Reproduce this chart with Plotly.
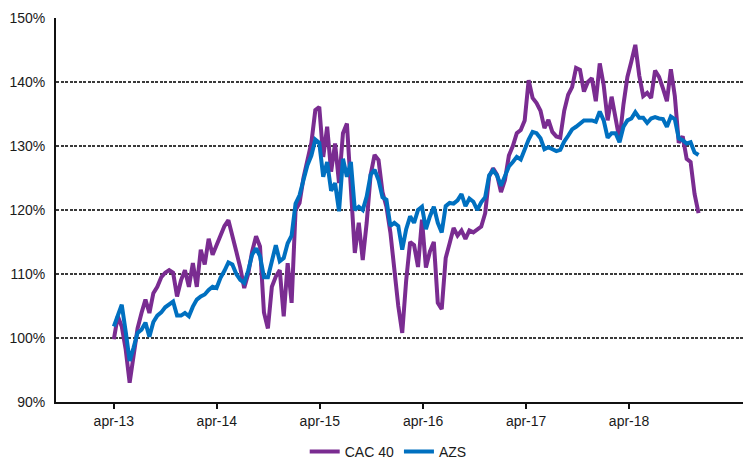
import pandas as pd
import plotly.graph_objects as go

# Fortnightly observations starting April 2013
start_date = "2013-04-01"
n_points = 149
dates = pd.date_range(start_date, periods=n_points, freq="14D")

cac40 = [
    99.8, 103.4, 101.8, 98.2, 93.0, 97.5, 101.5, 103.9, 106.0, 103.9,
    107.0, 108.0, 109.5, 110.2, 110.6, 110.2, 106.5, 109.0, 110.6, 108.0,
    111.7, 108.0, 113.8, 111.5, 115.5, 113.0, 114.5, 116.4, 117.5, 118.4,
    116.2, 113.5, 111.0, 107.8, 110.0, 113.5, 115.9, 114.3, 104.0, 101.5,
    108.0, 109.6, 110.6, 103.4, 111.7, 105.5, 120.0, 121.1, 125.0, 128.0,
    130.5, 135.6, 136.1, 128.3, 133.0, 126.0, 130.4, 124.2, 132.0, 133.5,
    124.0, 113.3, 118.0, 112.2, 118.0, 125.5, 128.6, 127.8, 122.8, 120.5,
    116.5, 110.5, 105.0, 100.8, 109.0, 115.0, 114.5, 111.1, 118.5, 111.0,
    113.5, 115.0, 105.5, 104.5, 112.5, 114.8, 117.2, 116.0, 116.8, 115.5,
    116.8, 116.5, 117.0, 117.4, 119.5, 125.2, 126.5, 125.5, 122.8, 124.7,
    128.5, 130.0, 132.0, 132.5, 134.0, 140.3, 137.5, 136.7, 135.5, 132.8,
    134.1, 132.2, 131.5, 131.3, 135.5, 138.0, 139.2, 142.2, 141.9, 138.5,
    140.0, 140.6, 137.0, 142.9, 139.5, 134.0, 137.7, 134.5, 131.0, 136.5,
    140.8, 143.2, 145.8, 141.0, 137.8, 138.3, 137.5, 141.8, 140.8, 139.0,
    137.0, 142.0, 137.8, 130.5, 131.5, 128.0, 127.5, 122.5, 119.5,
]

azs = [
    101.8, 103.5, 105.2, 101.0, 96.4, 98.5, 100.8, 101.3, 102.4, 100.2,
    102.5, 103.5, 104.0, 104.8, 105.2, 105.7, 103.5, 103.5, 103.9, 103.4,
    104.9, 106.0, 106.5, 106.8, 107.5, 108.0, 107.8, 109.4, 110.5, 111.8,
    111.5, 110.0, 109.1, 108.6, 110.5, 113.0, 114.0, 112.8, 109.5, 109.5,
    112.0, 114.5, 112.0, 112.5, 114.8, 116.0, 121.0, 122.3, 124.7, 127.0,
    128.5, 131.0, 130.5, 125.2, 127.5, 123.0, 124.2, 119.8, 128.0, 125.2,
    127.5, 120.0, 120.5, 120.0, 122.1, 125.5, 126.3, 124.7, 122.0, 121.6,
    117.5, 118.0, 117.5, 113.8, 117.0, 119.0, 118.0, 120.0, 120.5, 117.0,
    119.0, 120.5, 118.0, 116.5, 120.6, 121.1, 121.0, 121.5, 122.5, 120.6,
    121.8, 121.3, 120.0, 121.2, 122.0, 125.4, 126.2, 125.4, 123.8, 125.5,
    126.8, 127.5, 128.3, 127.9, 129.5, 131.0, 132.2, 132.0, 131.2, 129.5,
    129.8, 129.5, 129.2, 129.4, 130.7, 131.6, 132.6, 133.0, 133.5, 134.0,
    134.0, 134.0, 133.8, 135.4, 134.0, 131.3, 132.0, 132.0, 130.6, 133.0,
    134.0, 134.3, 135.3, 134.4, 134.4, 133.6, 134.3, 134.5, 134.3, 134.2,
    133.0, 134.6, 134.2, 131.2, 130.9, 130.4, 130.6, 129.0, 128.6,
]

tick_dates = ["2013-04-01", "2014-04-01", "2015-04-01", "2016-04-01", "2017-04-01", "2018-04-01"]
tick_labels = ["apr-13", "apr-14", "apr-15", "apr-16", "apr-17", "apr-18"]
y_ticks = [90, 100, 110, 120, 130, 140, 150]

fig = go.Figure()
fig.add_trace(go.Scatter(x=dates, y=cac40, mode="lines", name="CAC 40",
                         line=dict(color="#7A2C91", width=4)))
fig.add_trace(go.Scatter(x=dates, y=azs, mode="lines", name="AZS",
                         line=dict(color="#0070C0", width=4)))

# the page body adds an 8px offset, so the figure is sized to end at the window edge
fig.update_layout(
    width=743, height=451,
    margin=dict(l=48, r=0, t=10, b=57, autoexpand=False),
    paper_bgcolor="white", plot_bgcolor="white",
    font=dict(family="Liberation Sans, Arial, sans-serif", size=14, color="#1a1a1a"),
    showlegend=True,
    legend=dict(orientation="h", x=0.478, xanchor="center", y=-0.13, yanchor="middle",
                font=dict(size=14), itemwidth=30, traceorder="normal"),
)
fig.update_xaxes(
    type="date", range=["2012-09-08", "2019-06-07"],
    tickmode="array", tickvals=tick_dates, ticktext=tick_labels,
    showgrid=False, zeroline=False, automargin=False,
    showline=True, linecolor="#111", linewidth=2,
    ticks="outside", ticklen=5, tickwidth=1.5, tickcolor="#111",
)
fig.update_yaxes(
    range=[90, 150], tickmode="array", tickvals=y_ticks,
    ticktext=[f"{v}%" for v in y_ticks], automargin=False,
    showgrid=True, gridcolor="#3a3a3a", gridwidth=1.5, griddash="3px,1.5px",
    zeroline=False, showline=True, linecolor="#111", linewidth=2,
    ticks="", ticklabelstandoff=6,
)

fig.write_html("out.html")
